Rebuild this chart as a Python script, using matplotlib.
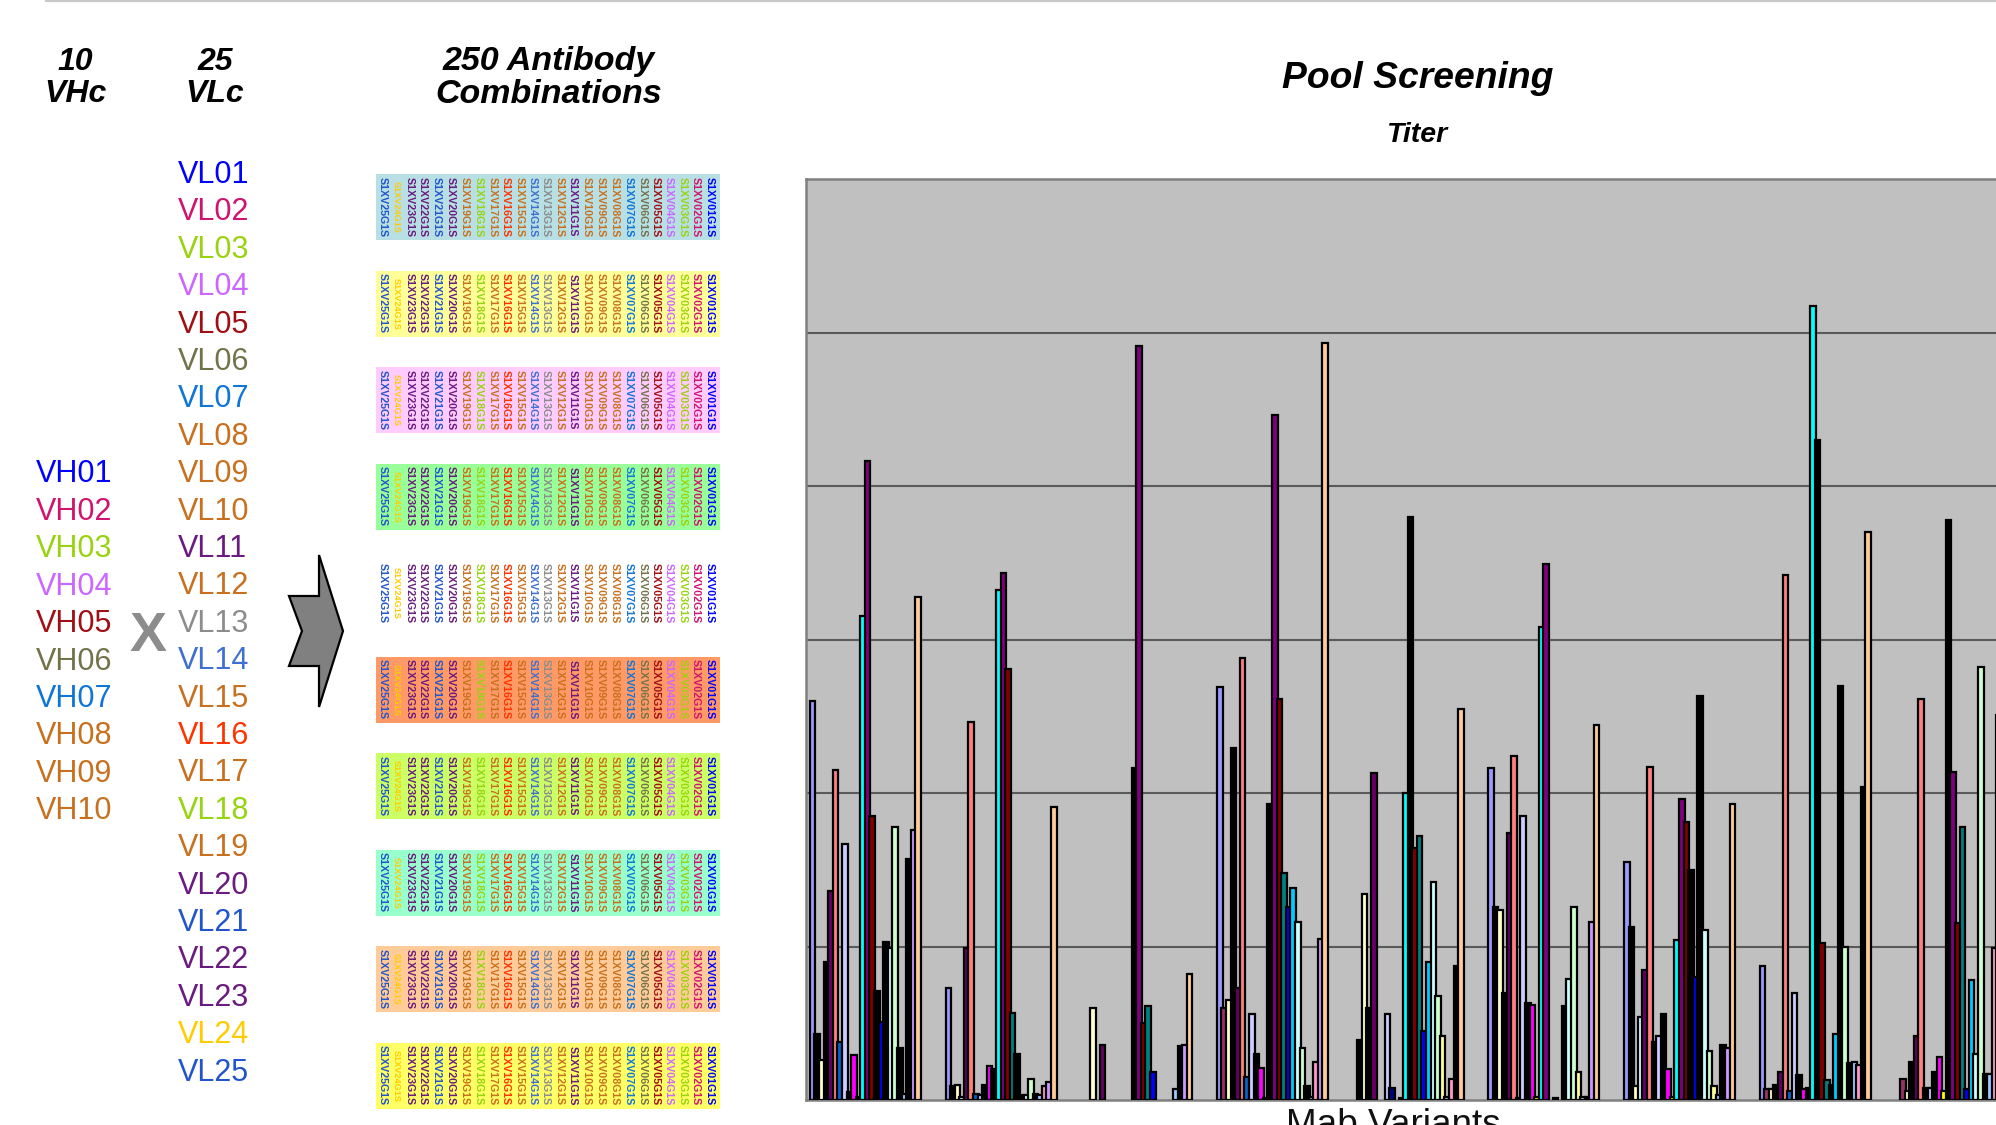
#!/usr/bin/env python3
"""Antibody combinations panel plus pool screening titer bars."""

import matplotlib
matplotlib.use("Agg")
import matplotlib.pyplot as plt
from matplotlib.lines import Line2D
from matplotlib.patches import Polygon, Rectangle

plt.rcParams["font.family"] = ["Liberation Sans", "DejaVu Sans"]

W, H = 1996, 1125

# ── Labels ───────────────────────────────────────────────────
vh_names = [f"VH{i:02d}" for i in range(1, 11)]
vl_names = [f"VL{i:02d}" for i in range(1, 26)]
vh_colors = ["#0000FF", "#D0146E", "#99D30F", "#CC66FF", "#A00F14",
             "#73734A", "#0F75D6", "#C8701E", "#C8701E", "#C8701E"]
vl_colors = ["#0000FF", "#D0146E", "#99D30F", "#CC66FF", "#A00F14",
             "#73734A", "#0F75D6", "#C8701E", "#C8701E", "#C8701E",
             "#6A1B7F", "#C8701E", "#8C8C8C", "#3F6FD0", "#C8701E",
             "#FF3300", "#C8701E", "#96D40F", "#C8701E", "#6A1B7F",
             "#2255CC", "#6A1B7F", "#6A1B7F", "#FFCC00", "#2255CC"]
pool_colors = ["#B8DFE4", "#FFFF99", "#FFCCFF", "#99FF99", "#FFFFFF",
               "#FF9966", "#CCFF66", "#99FFCC", "#FFCC99", "#FFFF66"]

# ── Titer per VL series, one list per VH group (grid units) ──
vh01 = [2.60, 0.43, 0.26, 0.90, 1.36, 2.15, 0.38, 1.67, 0.05, 0.29, 0.02, 3.15,
        4.16, 1.85, 0.71, 0.51, 1.03, 0.99, 1.78, 0.34, 0.04, 1.57, 1.76, 3.28]
vh02 = [0.73, 0.09, 0.10, 0.02, 0.99, 2.46, 0.04, 0.03, 0.10, 0.22, 0.20, 3.32,
        3.43, 2.81, 0.57, 0.30, 0.03, 0.03, 0.14, 0.04, 0.03, 0.09, 0.12, 1.91]
vh03 = [0.00, 0.00, 0.60, 0.00, 0.36, 0.00, 0.00, 0.00, 0.00, 0.00, 0.00, 2.16,
        4.91, 0.50, 0.61, 0.18, 0.00, 0.00, 0.00, 0.00, 0.07, 0.35, 0.36, 0.82]
vh04 = [2.69, 0.60, 0.65, 2.29, 0.73, 2.88, 0.15, 0.56, 0.30, 0.21, 0.01, 1.93,
        4.46, 2.61, 1.48, 1.26, 1.38, 1.16, 0.34, 0.09, 0.02, 0.25, 1.05, 4.93]
vh05 = [0.00, 0.39, 1.34, 0.60, 2.13, 0.00, 0.00, 0.56, 0.08, 0.00, 0.01, 2.00,
        3.80, 1.64, 1.72, 0.45, 0.90, 1.42, 0.68, 0.42, 0.02, 0.14, 0.87, 2.55]
vh06 = [2.16, 1.26, 1.24, 0.70, 1.74, 2.24, 0.01, 1.85, 0.63, 0.62, 0.02, 3.08,
        3.49, 0.00, 0.01, 0.00, 0.61, 0.79, 1.26, 0.18, 0.02, 0.02, 1.16, 2.44]
vh07 = [1.55, 1.13, 0.09, 0.54, 0.85, 2.17, 0.38, 0.42, 0.56, 0.20, 0.02, 1.04,
        1.96, 1.81, 1.50, 0.80, 2.63, 1.11, 0.32, 0.09, 0.03, 0.36, 0.34, 1.93]
vh08 = [0.87, 0.07, 0.07, 0.10, 0.18, 3.42, 0.06, 0.70, 0.16, 0.07, 0.08, 5.17,
        4.30, 1.02, 0.13, 0.10, 0.43, 2.70, 1.00, 0.24, 0.25, 0.23, 2.04, 3.70]
vh09 = [0.00, 0.14, 0.06, 0.25, 0.42, 2.61, 0.08, 0.08, 0.18, 0.28, 0.06, 3.78,
        2.14, 1.15, 1.78, 0.07, 0.78, 0.30, 2.82, 0.17, 0.17, 0.99, 2.51, 3.00]
titer_groups = [vh01, vh02, vh03, vh04, vh05, vh06, vh07, vh08, vh09]

# series colours of the chart
series_colors = ["#9999FF", "#993366", "#FFFFCC", "#CCFFFF", "#660066", "#FF8080",
                 "#0066CC", "#CCCCFF", "#000080", "#FF00FF", "#FFFF00", "#00FFFF",
                 "#800080", "#800000", "#008080", "#0000FF", "#00CCFF", "#CCFFFF",
                 "#CCFFCC", "#FFFF99", "#99CCFF", "#FF99CC", "#CC99FF", "#FFCC99"]

# bars so thin in the screenshot that only their outline shows
black_bars = [[1, 3, 8, 10, 14, 16, 19, 21],
              [1, 8, 10, 15, 16, 19],
              [11, 21],
              [3, 8, 10, 11, 19],
              [1, 3, 10, 12, 22],
              [1, 3, 6, 8, 14, 16, 21],
              [1, 6, 8, 14, 16, 21],
              [3, 8, 10, 12, 15, 17, 19, 22],
              [3, 6, 8, 11, 19, 22]]

fig = plt.figure(figsize=(W / 100, H / 100), dpi=100, facecolor="white")

# ── Pixel overlay for the left panel and the titles ──────────
ov = fig.add_axes([0, 0, 1, 1])
ov.set_xlim(0, W)
ov.set_ylim(H, 0)
ov.axis("off")

fig.add_artist(Line2D([46 / W, 1], [1 - 1 / H, 1 - 1 / H], color="#C8C8C8", lw=1.6))

head = dict(ha="center", va="center", fontweight="bold", fontstyle="italic", color="black")
ov.text(75, 61.5, "10", fontsize=23, **head)
ov.text(75, 94.5, "VHc", fontsize=23, **head)
ov.text(215, 61.5, "25", fontsize=23, **head)
ov.text(215, 94.5, "VLc", fontsize=23, **head)
ov.text(549, 61.5, "250 Antibody", fontsize=24.5, **head)
ov.text(549, 94.5, "Combinations", fontsize=24.5, **head)
ov.text(1418, 78.5, "Pool Screening", fontsize=26.8, **head)
ov.text(1418, 135.5, "Titer", fontsize=20.5, **head)
ov.text(1393, 1108, "Mab Variants", fontsize=26.6, ha="center", va="top", color="#111111")

for i, (name, col) in enumerate(zip(vh_names, vh_colors)):
    ov.text(36, 474.5 + i * 37.4, name, fontsize=22, color=col, ha="left", va="center")
for i, (name, col) in enumerate(zip(vl_names, vl_colors)):
    ov.text(178, 175 + i * 37.4, name, fontsize=22, color=col, ha="left", va="center")

ov.text(148, 637, "X", fontsize=40, fontweight="bold", color="#8C8C8C", ha="center", va="center")
ov.add_patch(Polygon([(319, 555), (343, 631), (319, 707), (319, 666), (289, 666),
                      (302, 631), (289, 596), (319, 596)],
                     closed=True, fc="#808080", ec="black", lw=1.6))

# ── Combination blocks, VL25 on the left, VL01 on the right ──
col_x = [383, 396, 410, 423, 437, 451, 465, 479, 493, 506, 520, 533, 546,
         560, 573, 587, 601, 615, 629, 643, 656, 669, 683, 696, 710]
for r, bg in enumerate(pool_colors):
    top = 174 + r * 96.5
    ov.add_patch(Rectangle((376.5, top), 343.5, 66, fc=bg, ec="none"))
    for x, name, col in zip(col_x, vl_names[::-1], vl_colors[::-1]):
        txt = f"S1XV{name[2:]}G1S"
        size = 6.6 if name == "VL24" else 7.7
        ov.text(x, top + 33, txt, fontsize=size, fontweight="bold", color=col,
                rotation=270, ha="center", va="center")

# ── Pool screening bars ──────────────────────────────────────
ax = fig.add_axes([806 / W, (H - 1100) / H, (W - 806) / W, 921 / H], zorder=2)
ax.set_facecolor("#C0C0C0")

GROUP_PX = 135.7
pitch = 4.59 / GROUP_PX
width = 5.6 / GROUP_PX

for s, col in enumerate(series_colors):
    xs, hs, cs = [], [], []
    for g, vals in enumerate(titer_groups):
        if vals[s] > 0:
            xs.append(g + s * pitch)
            hs.append(vals[s])
            cs.append("black" if s in black_bars[g] else col)
    ax.bar(xs, hs, width=width, color=cs, edgecolor="black", linewidth=1.6, zorder=3 + s * 0.01)

ax.set_xlim(-6.6 / GROUP_PX, (W - 812.6) / GROUP_PX)
ax.set_ylim(0, 6)
ax.set_xticks([])
ax.set_yticks([1, 2, 3, 4, 5])
ax.tick_params(left=False, labelleft=False)
ax.grid(True, axis="y", color="#5A5A5A", lw=1.5)
ax.set_axisbelow(True)
for side in ("left", "top", "bottom"):
    ax.spines[side].set_color("#808080")
    ax.spines[side].set_linewidth(1.8)
ax.spines["right"].set_visible(False)

fig.savefig("out.png", dpi=100, facecolor="white")
